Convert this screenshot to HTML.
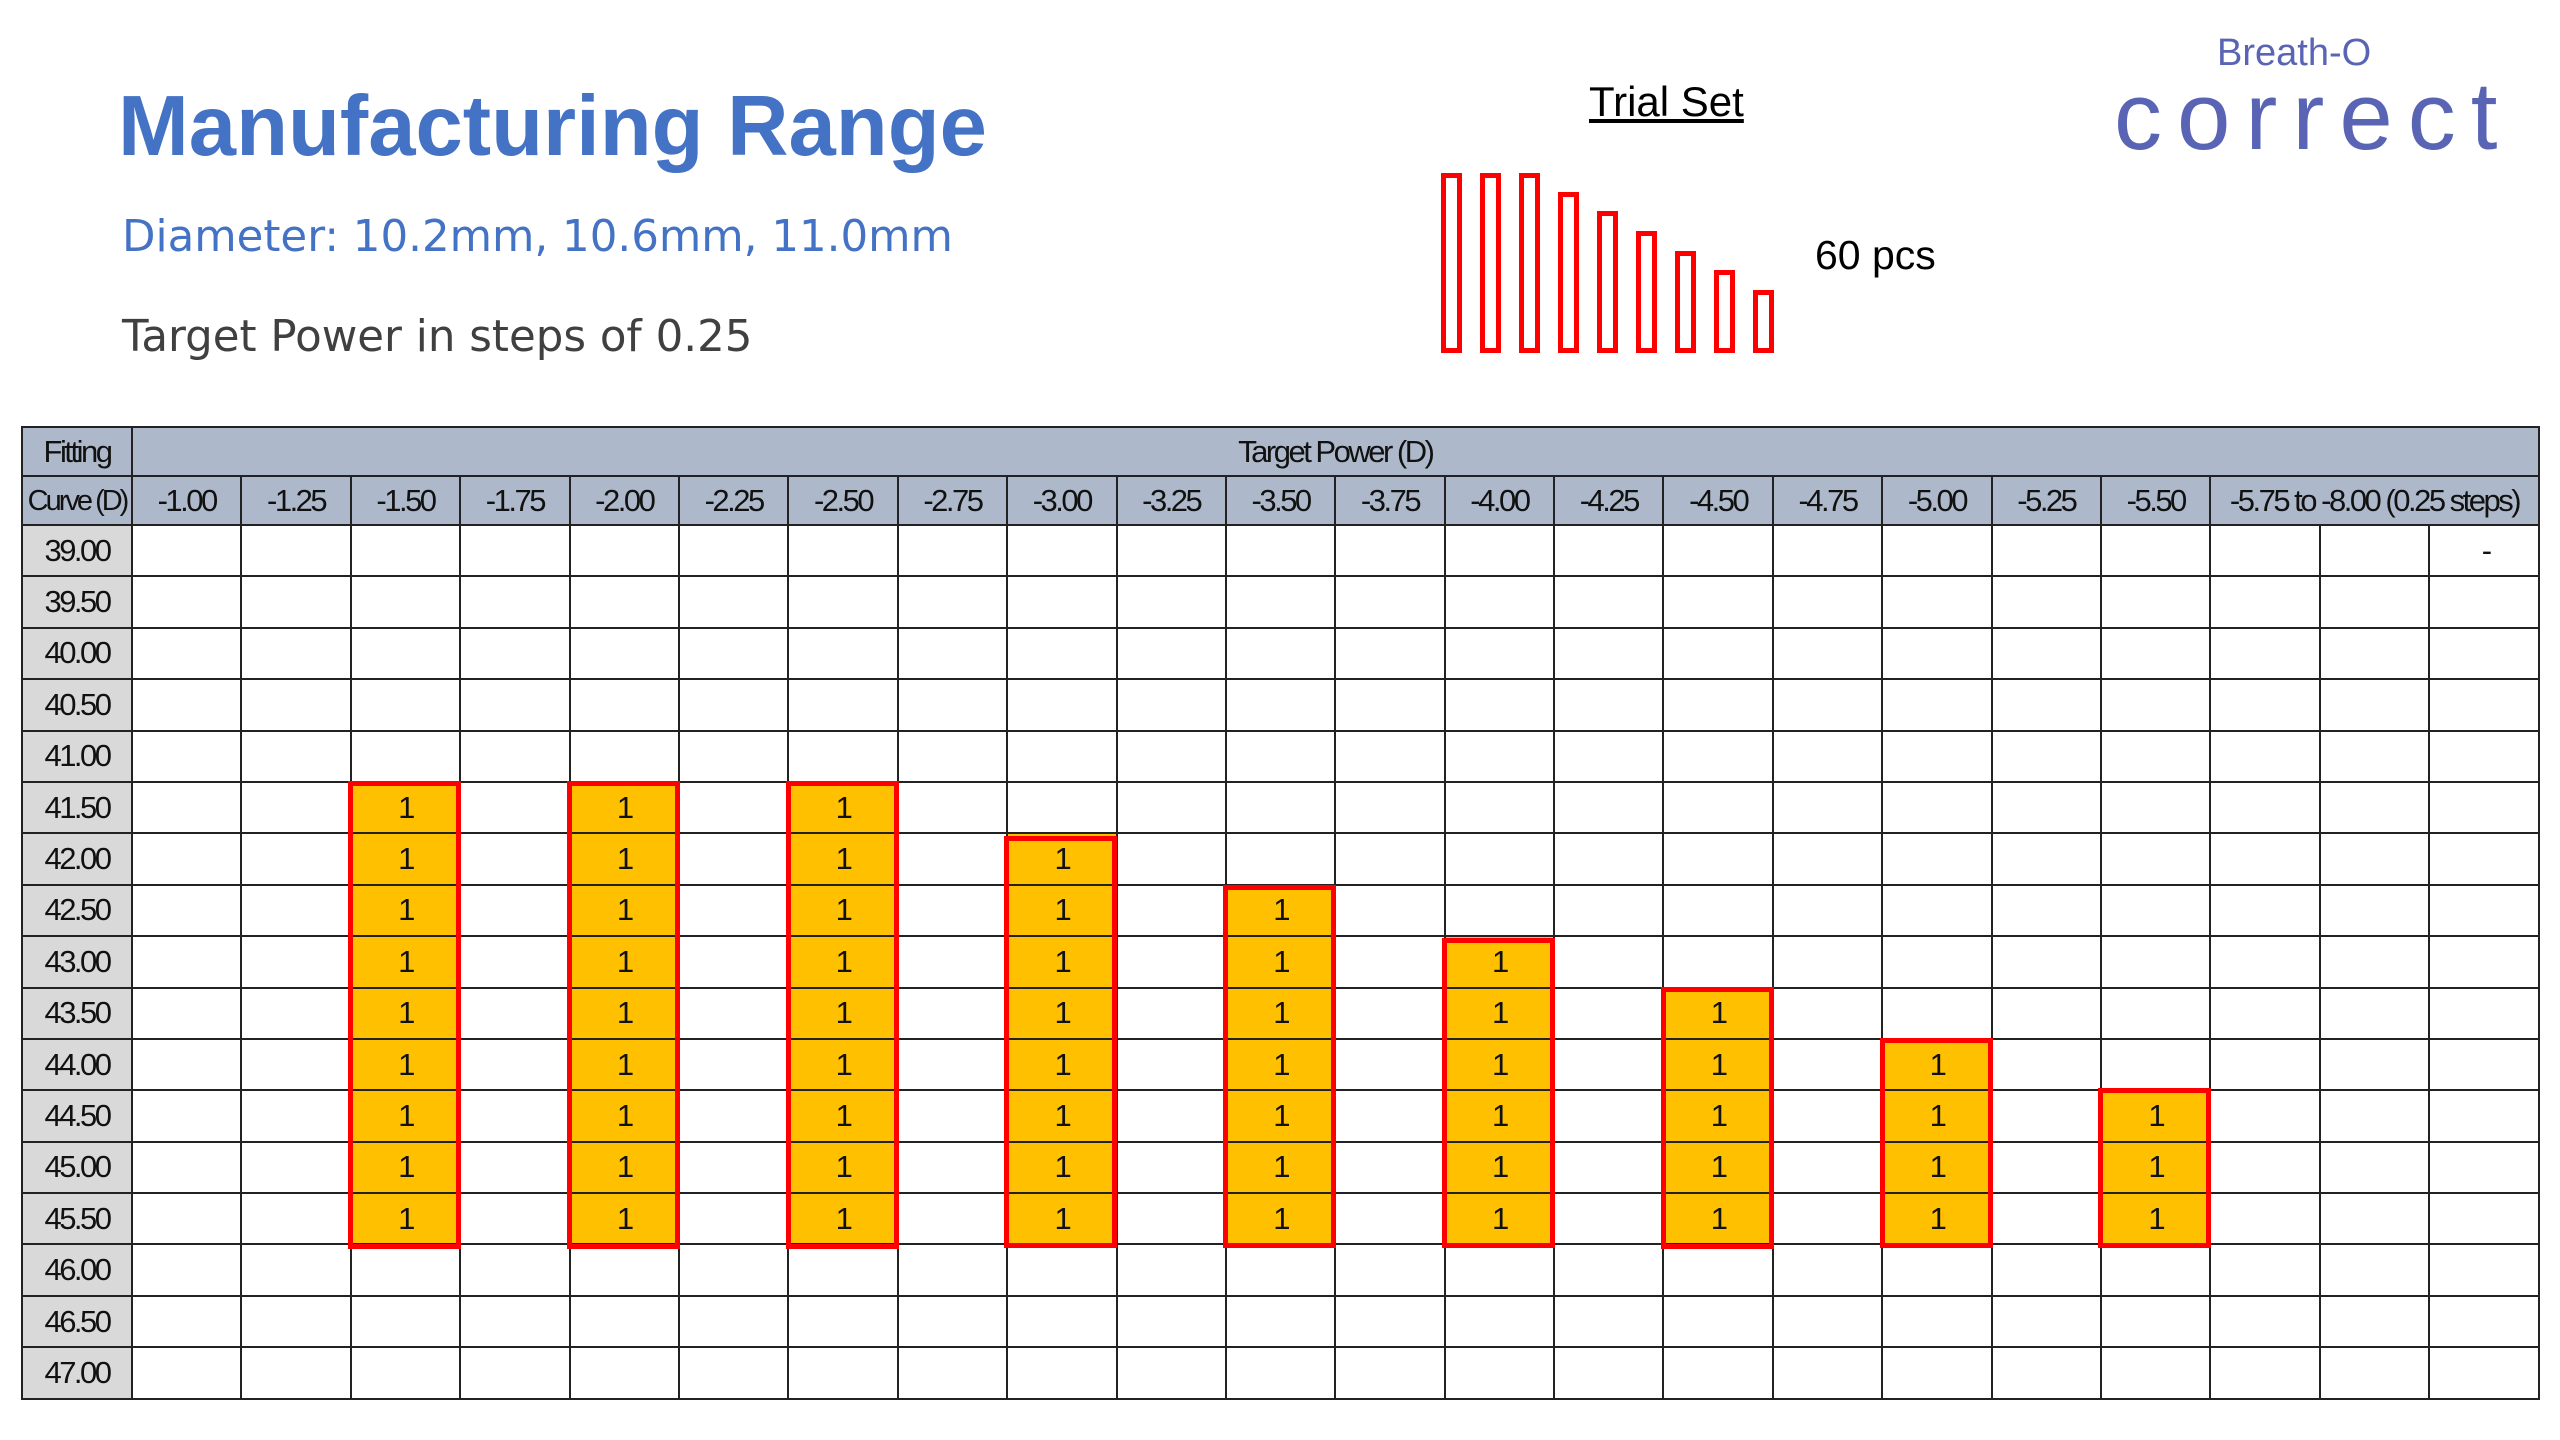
<!DOCTYPE html>
<html><head><meta charset="utf-8"><style>
body{margin:0;width:2560px;height:1440px;background:#fff;position:relative;overflow:hidden;font-family:"Liberation Sans",sans-serif}
.abs{position:absolute;white-space:nowrap}
table{position:absolute;left:21px;top:426px;border-collapse:collapse;table-layout:fixed;width:2518px}
td{border:2px solid #222;height:47px;padding:0;text-align:center;font-size:31px;letter-spacing:-2.5px;color:#111;white-space:nowrap;overflow:hidden;line-height:34px}
tr.h td{background:#ADB9CA}
td.f{background:#D9D9D9}
tr.d td{height:49.4px}
.o{background:#FFC000}
.rb{position:absolute;border:5px solid #F00;box-sizing:border-box;width:113px}
.bar{position:absolute;border:5px solid #F00;box-sizing:border-box;width:21px}
</style></head><body>
<div class="abs" style="left:118px;top:78px;font-size:85px;font-weight:bold;color:#4472C4">Manufacturing Range</div>
<div class="abs" style="left:122px;top:212px;font-size:43.5px;color:#4472C4;font-family:'DejaVu Sans',sans-serif">Diameter: 10.2mm, 10.6mm, 11.0mm</div>
<div class="abs" style="left:122px;top:312px;font-size:43.5px;color:#404040;font-family:'DejaVu Sans',sans-serif">Target Power in steps of 0.25</div>
<div class="abs" style="left:1589px;top:78px;font-size:42px;text-decoration:underline;color:#000">Trial Set</div>
<div class="abs" style="left:1815px;top:232px;font-size:41px;color:#000">60 pcs</div>
<div class="bar" style="left:1441px;top:173px;height:180px"></div>
<div class="bar" style="left:1480px;top:173px;height:180px"></div>
<div class="bar" style="left:1519px;top:173px;height:180px"></div>
<div class="bar" style="left:1558px;top:192px;height:161px"></div>
<div class="bar" style="left:1597px;top:211px;height:142px"></div>
<div class="bar" style="left:1636px;top:231px;height:122px"></div>
<div class="bar" style="left:1675px;top:251px;height:102px"></div>
<div class="bar" style="left:1714px;top:270px;height:83px"></div>
<div class="bar" style="left:1753px;top:290px;height:63px"></div>
<div class="abs" style="left:2217px;top:32px;font-size:38px;color:#5A64B4">Breath-O</div>
<div class="abs" style="left:2114px;top:62px;font-size:96px;color:#5A64B4;letter-spacing:15px">correct</div>
<table>
<colgroup><col style="width:110px"><col span="22" style="width:109.4px"></colgroup>
<tr class="h"><td class="f">Fitting</td><td colspan="22">Target Power (D)</td></tr>
<tr class="h"><td class="f" style="letter-spacing:-3px;font-size:29px">Curve (D)</td><td>-1.00</td><td>-1.25</td><td>-1.50</td><td>-1.75</td><td>-2.00</td><td>-2.25</td><td>-2.50</td><td>-2.75</td><td>-3.00</td><td>-3.25</td><td>-3.50</td><td>-3.75</td><td>-4.00</td><td>-4.25</td><td>-4.50</td><td>-4.75</td><td>-5.00</td><td>-5.25</td><td>-5.50</td><td colspan="3">-5.75 to -8.00 (0.25 steps)</td></tr>
<tr class="d"><td class="f">39.00</td><td></td><td></td><td></td><td></td><td></td><td></td><td></td><td></td><td></td><td></td><td></td><td></td><td></td><td></td><td></td><td></td><td></td><td></td><td></td><td></td><td></td><td style="text-align:right;padding-right:48px">-</td></tr>
<tr class="d"><td class="f">39.50</td><td></td><td></td><td></td><td></td><td></td><td></td><td></td><td></td><td></td><td></td><td></td><td></td><td></td><td></td><td></td><td></td><td></td><td></td><td></td><td></td><td></td><td></td></tr>
<tr class="d"><td class="f">40.00</td><td></td><td></td><td></td><td></td><td></td><td></td><td></td><td></td><td></td><td></td><td></td><td></td><td></td><td></td><td></td><td></td><td></td><td></td><td></td><td></td><td></td><td></td></tr>
<tr class="d"><td class="f">40.50</td><td></td><td></td><td></td><td></td><td></td><td></td><td></td><td></td><td></td><td></td><td></td><td></td><td></td><td></td><td></td><td></td><td></td><td></td><td></td><td></td><td></td><td></td></tr>
<tr class="d"><td class="f">41.00</td><td></td><td></td><td></td><td></td><td></td><td></td><td></td><td></td><td></td><td></td><td></td><td></td><td></td><td></td><td></td><td></td><td></td><td></td><td></td><td></td><td></td><td></td></tr>
<tr class="d"><td class="f">41.50</td><td></td><td></td><td class="o">1</td><td></td><td class="o">1</td><td></td><td class="o">1</td><td></td><td></td><td></td><td></td><td></td><td></td><td></td><td></td><td></td><td></td><td></td><td></td><td></td><td></td><td></td></tr>
<tr class="d"><td class="f">42.00</td><td></td><td></td><td class="o">1</td><td></td><td class="o">1</td><td></td><td class="o">1</td><td></td><td class="o">1</td><td></td><td></td><td></td><td></td><td></td><td></td><td></td><td></td><td></td><td></td><td></td><td></td><td></td></tr>
<tr class="d"><td class="f">42.50</td><td></td><td></td><td class="o">1</td><td></td><td class="o">1</td><td></td><td class="o">1</td><td></td><td class="o">1</td><td></td><td class="o">1</td><td></td><td></td><td></td><td></td><td></td><td></td><td></td><td></td><td></td><td></td><td></td></tr>
<tr class="d"><td class="f">43.00</td><td></td><td></td><td class="o">1</td><td></td><td class="o">1</td><td></td><td class="o">1</td><td></td><td class="o">1</td><td></td><td class="o">1</td><td></td><td class="o">1</td><td></td><td></td><td></td><td></td><td></td><td></td><td></td><td></td><td></td></tr>
<tr class="d"><td class="f">43.50</td><td></td><td></td><td class="o">1</td><td></td><td class="o">1</td><td></td><td class="o">1</td><td></td><td class="o">1</td><td></td><td class="o">1</td><td></td><td class="o">1</td><td></td><td class="o">1</td><td></td><td></td><td></td><td></td><td></td><td></td><td></td></tr>
<tr class="d"><td class="f">44.00</td><td></td><td></td><td class="o">1</td><td></td><td class="o">1</td><td></td><td class="o">1</td><td></td><td class="o">1</td><td></td><td class="o">1</td><td></td><td class="o">1</td><td></td><td class="o">1</td><td></td><td class="o">1</td><td></td><td></td><td></td><td></td><td></td></tr>
<tr class="d"><td class="f">44.50</td><td></td><td></td><td class="o">1</td><td></td><td class="o">1</td><td></td><td class="o">1</td><td></td><td class="o">1</td><td></td><td class="o">1</td><td></td><td class="o">1</td><td></td><td class="o">1</td><td></td><td class="o">1</td><td></td><td class="o">1</td><td></td><td></td><td></td></tr>
<tr class="d"><td class="f">45.00</td><td></td><td></td><td class="o">1</td><td></td><td class="o">1</td><td></td><td class="o">1</td><td></td><td class="o">1</td><td></td><td class="o">1</td><td></td><td class="o">1</td><td></td><td class="o">1</td><td></td><td class="o">1</td><td></td><td class="o">1</td><td></td><td></td><td></td></tr>
<tr class="d"><td class="f">45.50</td><td></td><td></td><td class="o">1</td><td></td><td class="o">1</td><td></td><td class="o">1</td><td></td><td class="o">1</td><td></td><td class="o">1</td><td></td><td class="o">1</td><td></td><td class="o">1</td><td></td><td class="o">1</td><td></td><td class="o">1</td><td></td><td></td><td></td></tr>
<tr class="d"><td class="f">46.00</td><td></td><td></td><td></td><td></td><td></td><td></td><td></td><td></td><td></td><td></td><td></td><td></td><td></td><td></td><td></td><td></td><td></td><td></td><td></td><td></td><td></td><td></td></tr>
<tr class="d"><td class="f">46.50</td><td></td><td></td><td></td><td></td><td></td><td></td><td></td><td></td><td></td><td></td><td></td><td></td><td></td><td></td><td></td><td></td><td></td><td></td><td></td><td></td><td></td><td></td></tr>
<tr class="d"><td class="f">47.00</td><td></td><td></td><td></td><td></td><td></td><td></td><td></td><td></td><td></td><td></td><td></td><td></td><td></td><td></td><td></td><td></td><td></td><td></td><td></td><td></td><td></td><td></td></tr>
</table>
<div class="rb" style="left:348px;top:781px;height:468px"></div>
<div class="rb" style="left:567px;top:781px;height:468px"></div>
<div class="rb" style="left:786px;top:781px;height:468px"></div>
<div class="rb" style="left:1004px;top:836px;height:412px"></div>
<div class="rb" style="left:1223px;top:885px;height:363px"></div>
<div class="rb" style="left:1442px;top:938px;height:310px"></div>
<div class="rb" style="left:1661px;top:987px;height:262px"></div>
<div class="rb" style="left:1880px;top:1038px;height:210px"></div>
<div class="rb" style="left:2098px;top:1088px;height:160px"></div>
</body></html>
